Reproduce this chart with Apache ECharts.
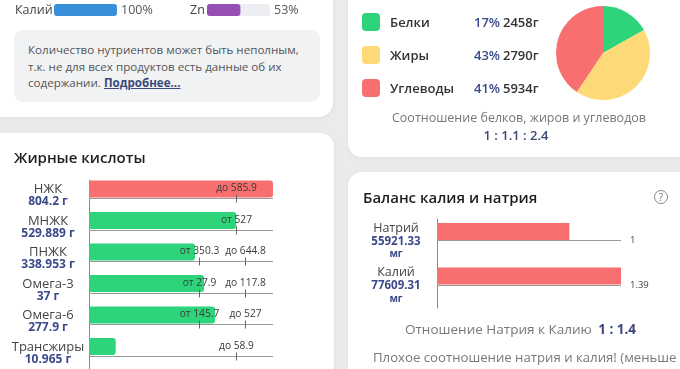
<!DOCTYPE html>
<html><head><meta charset="utf-8">
<script src="https://cdn.jsdelivr.net/npm/echarts@6/dist/echarts.min.js"></script>
<style>
html,body{margin:0;padding:0;width:680px;height:369px;overflow:hidden;background:#ebebeb;font-family:"Open Sans","Noto Sans",sans-serif;}
.card{position:absolute;background:#fff;border-radius:14px;box-shadow:0 1px 4px rgba(0,0,0,0.06);z-index:1;}
.t{position:absolute;white-space:nowrap;z-index:3;line-height:1;}
#chart{position:absolute;left:0;top:0;width:680px;height:369px;z-index:2;pointer-events:none;}
.info{position:absolute;left:14px;top:30px;width:306px;height:72px;background:#f1f2f4;border-radius:9px;z-index:2;box-sizing:border-box;padding:12px 14px;font-size:11.6px;line-height:16.5px;color:#555;}
.info a{color:#3b4a7a;font-weight:700;text-decoration:underline;}
.sq{position:absolute;width:18px;height:18px;border-radius:4px;z-index:3;}
.lg{font-size:13px;font-weight:600;color:#333;transform:translateY(-50%);}
.pc{font-size:13px;font-weight:600;color:#3b4a8a;transform:translateY(-50%);}
.gr{font-size:13px;font-weight:600;color:#333;transform:translateY(-50%);}
.q{position:absolute;left:654px;top:190px;width:12px;height:12px;border:1px solid #888;border-radius:50%;font-size:10px;color:#777;text-align:center;line-height:12px;z-index:3;}
</style></head>
<body>
<div class="card" style="left:-20px;top:-30px;width:353px;height:147px;"></div>
<div class="card" style="left:-20px;top:133px;width:354px;height:260px;"></div>
<div class="card" style="left:348px;top:-30px;width:360px;height:187px;"></div>
<div class="card" style="left:348px;top:172px;width:360px;height:220px;"></div>

<div class="t" style="left:15px;top:10px;transform:translateY(-50%);font-size:12.5px;color:#444;">Калий</div>
<div class="t" style="left:121px;top:10px;transform:translateY(-50%);font-size:12.5px;color:#555;">100%</div>
<div class="t" style="left:190px;top:10px;transform:translateY(-50%);font-size:12.5px;color:#444;">Zn</div>
<div class="t" style="left:274px;top:10px;transform:translateY(-50%);font-size:12.5px;color:#555;">53%</div>

<div class="info">Количество нутриентов может быть неполным,<br>т.к. не для всех продуктов есть данные об их<br>содержании. <a>Подробнее...</a></div>

<div class="t" style="left:14px;top:157px;transform:translateY(-50%);font-size:15px;font-weight:600;color:#1e1e1e;">Жирные кислоты</div>

<div class="sq" style="left:362px;top:13px;background:#2ed47a;"></div>
<div class="sq" style="left:362px;top:46px;background:#fdd977;"></div>
<div class="sq" style="left:362px;top:79px;background:#f76f6f;"></div>
<div class="t lg" style="left:390px;top:22px;">Белки</div>
<div class="t lg" style="left:390px;top:55px;">Жиры</div>
<div class="t lg" style="left:390px;top:88px;">Углеводы</div>
<div class="t pc" style="left:474px;top:22px;">17%</div>
<div class="t pc" style="left:474px;top:55px;">43%</div>
<div class="t pc" style="left:474px;top:88px;">41%</div>
<div class="t gr" style="left:503px;top:22px;">2458г</div>
<div class="t gr" style="left:503px;top:55px;">2790г</div>
<div class="t gr" style="left:503px;top:88px;">5934г</div>
<div class="t" style="left:519px;top:118px;transform:translate(-50%,-50%);font-size:12.5px;color:#777;">Соотношение белков, жиров и углеводов</div>
<div class="t" style="left:516px;top:135px;transform:translate(-50%,-50%);font-size:13px;font-weight:600;color:#3b4a7a;">1 : 1.1 : 2.4</div>

<div class="t" style="left:363px;top:197px;transform:translateY(-50%);font-size:15px;font-weight:600;color:#1e1e1e;">Баланс калия и натрия</div>
<div class="q">?</div>
<div class="t" style="left:405px;top:330px;transform:translateY(-50%);font-size:13.5px;color:#777;">Отношение Натрия к Калию <b style="color:#3b4a7a;font-weight:700;margin-left:3px;">1 : 1.4</b></div>
<div class="t" style="left:373px;top:358px;transform:translateY(-50%);font-size:13.2px;color:#777;">Плохое соотношение натрия и калия! (меньше</div>

<div id="chart"></div>
<script>
// ---- data ----
const miniNames = ['Калий', 'Zn'];
const miniValues = [100, 53];

const fatNames = ['НЖК', 'МНЖК', 'ПНЖК', 'Омега-3', 'Омега-6', 'Трансжиры'];
const fatAmounts = ['804.2', '529.889', '338.953', '37', '277.9', '10.965'];
// bar length as share of the norm track (%)
const fatBarValues = [100, 80, 57.6, 62.5, 68.5, 14.5];
const fatOver = [true, false, false, false, false, false];
const fatNormPositions = [[80], [80], [60, 85], [60, 85], [60, 85], [80]];
const fatNormLabels = [['до 585.9'], ['от 527'], ['от 350.3', 'до 644.8'], ['от 27.9', 'до 117.8'], ['от 145.7', 'до 527'], ['до 58.9']];

const mineralNames = ['Натрий', 'Калий'];
const mineralAmounts = ['55921.33', '77609.31'];
const mineralRatio = [1, 1.39];

const macroNames = ['Белки', 'Жиры', 'Углеводы'];
const macroPercents = [17, 43, 41];

// ---- chart ----
const chart = echarts.init(document.getElementById('chart'), null, {renderer: 'canvas'});
const FONT = '"Open Sans","Noto Sans",sans-serif';
const GREEN = '#2ed47a', YELLOW = '#fdd977', RED = '#f76f6f';

const option = {
  animation: false,
  backgroundColor: 'transparent',
  grid: [
    {left: 54, top: 4, width: 63, height: 12},
    {left: 207, top: 4, width: 63, height: 12},
    {left: 89, top: 180, width: 184, height: 193},
    {left: 437, top: 219, width: 184, height: 89}
  ],
  xAxis: [
    {gridIndex: 0, type: 'value', min: 0, max: 100, show: false},
    {gridIndex: 1, type: 'value', min: 0, max: 100, show: false},
    {gridIndex: 2, type: 'value', min: 0, max: 100, show: false},
    {gridIndex: 3, type: 'value', min: 0, max: 1.39, show: false}
  ],
  yAxis: [
    {gridIndex: 0, type: 'category', data: [miniNames[0]], show: false},
    {gridIndex: 1, type: 'category', data: [miniNames[1]], show: false},
    {gridIndex: 2, type: 'category', data: fatNames, inverse: true,
      axisLine: {show: true, lineStyle: {color: '#8a8a8a', width: 1}},
      axisTick: {show: false}, splitLine: {show: false},
      axisLabel: {
        margin: 41, align: 'center',
        formatter: (v, i) => '{n|' + v + '}\n{v|' + fatAmounts[i] + ' г}',
        rich: {
          n: {fontFamily: FONT, fontSize: 13, color: '#444', lineHeight: 12, align: 'center'},
          v: {fontFamily: FONT, fontSize: 12, fontWeight: 'bold', color: '#3b4a8a', lineHeight: 12, align: 'center'}
        }
      }
    },
    {gridIndex: 3, type: 'category', data: mineralNames, inverse: true,
      axisLine: {show: true, lineStyle: {color: '#8a8a8a', width: 1}},
      axisTick: {show: false}, splitLine: {show: false},
      axisLabel: {
        margin: 41, align: 'center',
        formatter: (v, i) => '{n|' + v + '}\n{v|' + mineralAmounts[i] + '}\n{u|мг}',
        rich: {
          n: {fontFamily: FONT, fontSize: 12.5, color: '#444', lineHeight: 13, align: 'center'},
          v: {fontFamily: FONT, fontSize: 11.5, fontWeight: 'bold', color: '#3b4a8a', lineHeight: 13, align: 'center'},
          u: {fontFamily: FONT, fontSize: 10, fontWeight: 'bold', color: '#3b4a8a', lineHeight: 13, align: 'center'}
        }
      }
    }
  ],
  series: [
    {type: 'bar', xAxisIndex: 0, yAxisIndex: 0, data: [miniValues[0]], barWidth: 12,
      itemStyle: {color: '#3a8fdb', borderRadius: 3}, silent: true},
    {type: 'bar', xAxisIndex: 1, yAxisIndex: 1, data: [miniValues[1]], barWidth: 12,
      showBackground: true, backgroundStyle: {color: '#eceef1', borderRadius: 3},
      itemStyle: {color: '#9650b5', borderRadius: 3}, silent: true},
    {type: 'custom', xAxisIndex: 2, yAxisIndex: 2, silent: true,
      data: fatBarValues.map((v, i) => [v, i]),
      encode: {x: 0, y: 1},
      renderItem: function (params, api) {
        const v = api.value(0), i = api.value(1);
        const c0 = api.coord([0, i]);
        const band = api.size([0, 1])[1];
        const top = c0[1] - band / 2;
        const x1 = api.coord([v, i])[0];
        const xMax = api.coord([100, i])[0];
        const base = Math.round(top + 18) + 0.5;
        const children = [
          {type: 'rect', shape: {x: c0[0], y: top + 0.5, width: x1 - c0[0], height: 17, r: [0, 3, 3, 0]},
            style: {fill: fatOver[i] ? RED : GREEN}},
          {type: 'line', shape: {x1: c0[0], y1: base, x2: xMax, y2: base},
            style: {stroke: '#9a9a9a', lineWidth: 1}}
        ];
        fatNormPositions[i].forEach((p, k) => {
          const x = Math.round(api.coord([p, i])[0]) + 0.5;
          children.push({type: 'line', shape: {x1: x, y1: base - 4, x2: x, y2: base + 4},
            style: {stroke: '#666', lineWidth: 1}});
          children.push({type: 'text', style: {text: fatNormLabels[i][k], x: x, y: top + 8.5,
            align: 'center', verticalAlign: 'middle', font: '10.2px ' + FONT, fill: '#3a3a3a'}});
        });
        return {type: 'group', children: children};
      }
    },
    {type: 'custom', xAxisIndex: 3, yAxisIndex: 3, silent: true,
      data: mineralRatio.map((v, i) => [v, i]),
      encode: {x: 0, y: 1},
      renderItem: function (params, api) {
        const v = api.value(0), i = api.value(1);
        const c0 = api.coord([0, i]);
        const band = api.size([0, 1])[1];
        const top = c0[1] - band / 2;
        const x1 = api.coord([v, i])[0];
        const xMax = api.coord([1.39, i])[0];
        const base = Math.round(top + 21) + 0.5;
        return {type: 'group', children: [
          {type: 'line', shape: {x1: c0[0], y1: base, x2: xMax, y2: base},
            style: {stroke: '#9a9a9a', lineWidth: 1}},
          {type: 'rect', shape: {x: c0[0], y: top + 4, width: x1 - c0[0], height: 17},
            style: {fill: RED}},
          {type: 'text', style: {text: String(v), x: xMax + 9, y: base,
            align: 'left', verticalAlign: 'middle', font: '9.5px ' + FONT, fill: '#444'}}
        ]};
      }
    },
    {type: 'pie', center: [603, 53], radius: 47, startAngle: 90, clockwise: true, silent: true,
      label: {show: false}, labelLine: {show: false},
      data: macroNames.map((n, i) => ({name: n, value: macroPercents[i]})),
      color: [GREEN, YELLOW, RED]
    }
  ]
};
chart.setOption(option);
</script>
</body></html>
